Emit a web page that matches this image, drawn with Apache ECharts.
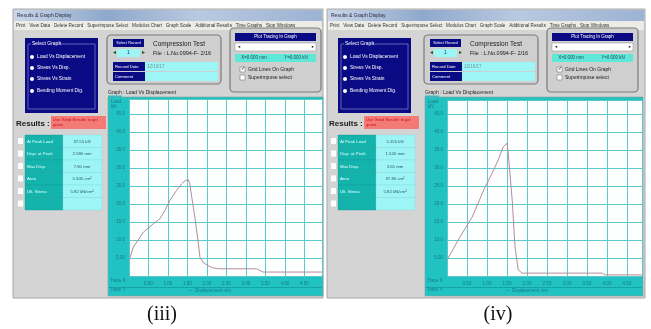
<!DOCTYPE html>
<html>
<head>
<meta charset="utf-8">
<script src="https://cdn.jsdelivr.net/npm/echarts@6/dist/echarts.min.js"></script>
<style>
  html, body { margin: 0; padding: 0; background: #fff; }
  #chart { width: 651px; height: 329px; }
</style>
</head>
<body>
<div id="chart"></div>
<script>
// displacement (mm) / load (kN)
const dispIII = [0.00, 0.11, 0.37, 0.62, 0.79, 0.92, 1.05, 1.22, 1.35, 1.44, 1.52, 1.56, 1.61, 1.69, 1.78, 1.82, 1.90, 2.03, 2.16, 2.33, 3.27, 3.44, 4.95]
const loadIII = [4.3, 8.0, 12.2, 14.5, 15.9, 18.2, 21.0, 23.8, 25.6, 26.5, 26.8, 25.6, 21.9, 16.3, 8.9, 5.2, 3.8, 2.9, 2.2, 2.0, 2.0, 1.1, 1.1]
const dispIV = [0.00, 0.28, 0.63, 0.95, 1.13, 1.28, 1.40, 1.50, 1.53, 1.63, 1.70, 1.78, 1.88, 3.88, 3.95, 4.87]
const loadIV = [4.4, 10.0, 16.4, 24.7, 28.6, 32.2, 35.8, 36.9, 34.2, 21.1, 8.1, 1.7, 0.8, 0.8, 0.3, 0.3]

const xTickLabels = ['0.50', '1.00', '1.50', '2.00', '2.50', '3.00', '3.50', '4.00', '4.50']
const yTickLabels = ['5.00', '10.0', '15.0', '20.0', '25.0', '30.0', '35.0', '40.0', '45.0']
const graphItems = ['Load Vs Displacement', 'Stress Vs Disp.', 'Stress Vs Strain', 'Bending Moment Dig.']
const resultNames = ['At Peak Load', 'Disp. at Peak', 'Max Disp.', 'Area', 'Ult. Stress', '']
const resultsIII = ['37.55 kN', '2.580 mm', '7.80 mm', '5.345 cm²', '5.82 kN/cm²', '']
const resultsIV = ['5.155 kN', '1.520 mm', '3.65 mm', '37.80 cm²', '5.82 kN/cm²', '']
const menuText = 'Print   View Data   Delete Record   Superimpose Select   Modulus Chart   Graph Scale   Additional Results   Time Graphs   Stop Windows'

const TEAL = '#21c2c2'
const CYAN = '#9ef5f5'
const NAVY = '#0a0a84'
const FONT = 'Liberation Sans'

const rect = (x, y, w, h, fill, extra) => Object.assign({
  type: 'rect', shape: { x, y, width: w, height: h }, style: { fill }, silent: true,
}, extra || {})

const txt = (x, y, text, size, fill, extra) => ({
  type: 'text', x, y, silent: true,
  style: Object.assign({ text, fontSize: size, fill, fontFamily: FONT, textVerticalAlign: 'middle' }, extra || {}),
})

// one screenshot window
const windowGraphics = (wx, ww, dx, gx, gw, results) => {
  const g = []
  g.push(rect(wx, 9, ww, 289, '#d4d4d4', { style: { fill: '#d4d4d4', stroke: '#a8a8a8', lineWidth: 1 } }))
  g.push(rect(wx + 1, 10, ww - 2, 11, '', {
    style: { fill: new echarts.graphic.LinearGradient(0, 0, 1, 0, [
      { offset: 0, color: '#c9d6e8' }, { offset: 0.3, color: '#8fa8cc' },
      { offset: 0.6, color: '#b9c9e0' }, { offset: 1, color: '#9cb3d4' }]) },
  }))
  g.push(txt(wx + 4, 15.5, 'Results & Graph Display', 5, '#2a2a40'))
  g.push(rect(wx + 1, 21, ww - 2, 9, '#ecebe6'))
  g.push(txt(wx + 3, 25.5, menuText, 4.6, '#333'))

  // select graph
  g.push(rect(25 + dx, 38, 73, 75, NAVY))
  g.push(rect(28 + dx, 44, 67, 65, '', { style: { fill: 'none', stroke: '#9aa0d8', lineWidth: 0.6 } }))
  g.push(rect(31 + dx, 41, 26, 6, NAVY))
  g.push(txt(32 + dx, 44, 'Select Graph', 5, '#fff'))
  graphItems.forEach((s, i) => {
    const y = 57 + i * 11 + (i === 3 ? 1 : 0)
    g.push({ type: 'circle', shape: { cx: 32 + dx, cy: y, r: 2 }, style: { fill: '#fff' }, silent: true })
    g.push(txt(37 + dx, y, s, 4.8, '#fff'))
  })

  // record box
  const rx = 107 + dx + (dx ? 4 : 0)
  g.push(rect(rx, 35, 114, 49, '#cfcfcf', { shape: { x: rx, y: 35, width: 114, height: 49, r: 4 }, style: { fill: '#cfcfcf', stroke: '#7a7a7a', lineWidth: 1.2 } }))
  g.push(rect(rx + 6, 39, 31, 8, NAVY))
  g.push(txt(rx + 21.5, 43, 'Select Record', 3.9, '#fff', { textAlign: 'center' }))
  g.push(rect(rx + 10, 49, 23, 8, CYAN))
  g.push(txt(rx + 5, 53, '◄', 5, '#0a5a20'))
  g.push(txt(rx + 34, 53, '►', 5, '#0a5a20'))
  g.push(txt(rx + 21.5, 53, '1', 5, '#0a3a80', { textAlign: 'center' }))
  g.push(txt(rx + 46, 44, 'Compression Test', 6.5, '#1a1a1a'))
  g.push(txt(rx + 46, 53, 'File : L.No.0994-F- 2/16', 5.5, '#1a1a1a'))
  g.push(rect(rx + 6, 62, 32, 9, NAVY))
  g.push(txt(rx + 8, 66.5, 'Record Date', 4.2, '#fff'))
  g.push(rect(rx + 38, 62, 73, 9, CYAN))
  g.push(txt(rx + 40, 66.5, '12/10/17', 4.5, '#6a9aa0'))
  g.push(rect(rx + 6, 72, 32, 9, NAVY))
  g.push(txt(rx + 8, 76.5, 'Comment', 4.2, '#fff'))
  g.push(rect(rx + 38, 72, 73, 9, CYAN))

  // plot tracing box
  const px = 230 + dx + (dx ? 4 : 0)
  g.push(rect(px, 28, 91, 64, '', { shape: { x: px, y: 28, width: 91, height: 64, r: 4 }, style: { fill: '#cfcfcf', stroke: '#7a7a7a', lineWidth: 1.2 } }))
  g.push(rect(px + 5, 33, 81, 8, NAVY))
  g.push(txt(px + 45.5, 37, 'Plot Tracing In Graph', 4.5, '#fff', { textAlign: 'center' }))
  g.push(rect(px + 5, 43, 81, 8, '#fff', { style: { fill: '#fff', stroke: '#888', lineWidth: 0.5 } }))
  g.push(txt(px + 7, 47, '◄', 4, '#333'))
  g.push(txt(px + 81, 47, '►', 4, '#333'))
  g.push(rect(px + 5, 54, 81, 8, '#5fe8d8'))
  g.push(txt(px + 24, 58, 'X=0.000 mm', 4.5, '#1a4a50', { textAlign: 'center' }))
  g.push(txt(px + 66, 58, 'Y=0.000 kN', 4.5, '#1a4a50', { textAlign: 'center' }))
  g.push(rect(px + 10, 67, 5, 5, '#fff', { style: { fill: '#fff', stroke: '#666', lineWidth: 0.5 } }))
  g.push(txt(px + 10.5, 69, '✓', 5, '#222'))
  g.push(txt(px + 18, 69.5, 'Grid Lines On Graph', 5, '#1a1a1a'))
  g.push(rect(px + 10, 75, 5, 5, '#fff', { style: { fill: '#fff', stroke: '#666', lineWidth: 0.5 } }))
  g.push(txt(px + 18, 77.5, 'Superimpose select', 5, '#1a1a1a'))

  // graph frame
  g.push(txt(gx, 93, 'Graph :', 5, '#222'))
  g.push(rect(gx, 95.5, 14, 1.5, TEAL))
  g.push(txt(gx + 18, 93, 'Load Vs Displacement', 5, '#222'))
  g.push(rect(gx, 97, gw, 199, TEAL, { style: { fill: TEAL, stroke: '#8aa0a0', lineWidth: 0.6 } }))
  g.push(txt(gx + 3, 102, 'Load', 4.5, '#157a88'))
  g.push(txt(gx + 3, 107, 'kN', 4.5, '#157a88'))
  g.push(txt(gx + 2, 281, 'Trace X', 4.5, '#157a88'))
  g.push(txt(gx + 2, 290, 'Trace Y', 4.5, '#157a88'))
  g.push(txt(gx + 80, 290.5, '---  Displacement mm', 4.5, '#157a88'))
  g.push(rect(gx + 1, 287, gw - 2, 0.8, '#159a9a'))

  // results
  g.push(txt(16 + dx, 124, 'Results :', 8, '#1a1a1a', { fontWeight: 'bold' }))
  g.push(rect(51 + dx, 116, 55, 13, '#f47a78'))
  g.push(txt(53 + dx, 119.5, 'Use \'Send Results\' to get', 4, '#c01010'))
  g.push(txt(53 + dx, 125, 'green', 4, '#c01010'))
  resultNames.forEach((s, i) => {
    const y = 135 + i * 12.5
    g.push(rect(18 + dx, y + 3, 5, 6, '#fff'))
    g.push(rect(25 + dx, y, 38, 12.5, '#14b4ac', { style: { fill: '#14b4ac', stroke: '#0e9a94', lineWidth: 0.4 } }))
    g.push(rect(63 + dx, y, 39, 12.5, CYAN, { style: { fill: CYAN, stroke: '#7fd8d8', lineWidth: 0.4 } }))
    g.push(txt(27 + dx, y + 6.5, s, 4.3, '#e8ffff'))
    g.push(txt(82 + dx, y + 6.5, results[i], 4.3, '#2a5a60', { textAlign: 'center' }))
  })
  return g
}

const axisPair = (gi, xMax, yMax) => ({
  x: {
    type: 'value', gridIndex: gi, min: 0, max: xMax, interval: 0.5, z: 8,
    axisLine: { show: false }, axisTick: { show: false },
    axisLabel: { fontSize: 4.5, color: '#157a88', fontFamily: FONT, margin: 5, showMaxLabel: false,
      formatter: (v) => xTickLabels[Math.round(v / 0.5) - 1] || '' },
    splitLine: { show: true, lineStyle: { color: '#5cc8c8', width: 1 } },
  },
  y: {
    type: 'value', gridIndex: gi, min: 0, max: yMax, interval: 5, z: 8,
    axisLine: { show: false }, axisTick: { show: false },
    axisLabel: { fontSize: 4.5, color: '#157a88', fontFamily: FONT, margin: 4, showMaxLabel: false,
      formatter: (v) => yTickLabels[Math.round(v / 5) - 1] || '' },
    splitLine: { show: true, lineStyle: { color: '#5cc8c8', width: 1 } },
  },
})

const a0 = axisPair(0, 4.95, 49.2)
const a1 = axisPair(1, 4.875, 48.9)

const chart = echarts.init(document.getElementById('chart'))
chart.setOption({
  animation: false,
  graphic: {
    elements: [
      ...windowGraphics(13, 310, 0, 108, 215, resultsIII),
      ...windowGraphics(327, 318, 313, 425, 218, resultsIV),
      txt(162, 315, '(iii)', 20, '#111', { fontFamily: 'Liberation Serif', textAlign: 'center' }),
      txt(498, 315, '(iv)', 20, '#111', { fontFamily: 'Liberation Serif', textAlign: 'center' }),
    ],
  },
  grid: [
    { left: 129, top: 99, width: 193, height: 177, show: true, backgroundColor: '#fdffff', borderWidth: 0, z: 5 },
    { left: 447, top: 100, width: 195, height: 176, show: true, backgroundColor: '#fdffff', borderWidth: 0, z: 5 },
  ],
  xAxis: [a0.x, a1.x],
  yAxis: [a0.y, a1.y],
  series: [
    {
      type: 'line', xAxisIndex: 0, yAxisIndex: 0, z: 10, showSymbol: false, silent: true,
      data: dispIII.map((d, i) => [d, loadIII[i]]),
      lineStyle: { color: '#b48c98', width: 1 },
    },
    {
      type: 'line', xAxisIndex: 1, yAxisIndex: 1, z: 10, showSymbol: false, silent: true,
      data: dispIV.map((d, i) => [d, loadIV[i]]),
      lineStyle: { color: '#b48c98', width: 1 },
    },
  ],
})
</script>
</body>
</html>
